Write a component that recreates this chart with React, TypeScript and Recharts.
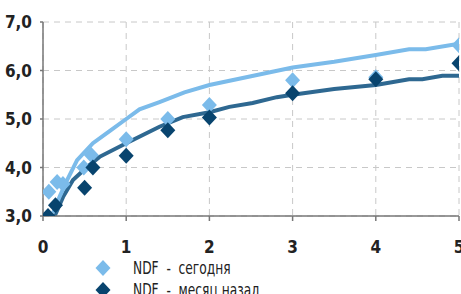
import React from 'react';
import { ComposedChart, Line, Scatter, XAxis, YAxis, CartesianGrid } from 'recharts';

// measured points
const todayX = [0.07, 0.17, 0.24, 0.49, 0.58, 1, 1.5, 2, 3, 4, 5];
const todayY = [3.5, 3.7, 3.66, 4.0, 4.26, 4.58, 5.0, 5.29, 5.8, 5.86, 6.52];
const monthX = [0.06, 0.15, 0.5, 0.6, 1, 1.5, 2, 3, 4, 5];
const monthY = [3.0, 3.22, 3.58, 4.0, 4.24, 4.77, 5.03, 5.53, 5.82, 6.15];

// fitted curves
const trendTodayX = [0.12, 0.2, 0.29, 0.41, 0.6, 0.8, 1.0, 1.16, 1.4, 1.7, 2.0, 2.5, 3.0, 3.5, 4.0, 4.4, 4.6, 5.0];
const trendTodayY = [3.06, 3.4, 3.74, 4.15, 4.5, 4.75, 5.0, 5.2, 5.35, 5.55, 5.7, 5.88, 6.06, 6.18, 6.32, 6.44, 6.44, 6.55];
const trendMonthX = [0.14, 0.24, 0.36, 0.53, 0.68, 1.0, 1.4, 1.68, 2.0, 2.24, 2.52, 2.81, 3.0, 3.5, 4.0, 4.4, 4.56, 4.8, 5.0];
const trendMonthY = [3.0, 3.39, 3.74, 4.01, 4.22, 4.5, 4.84, 5.04, 5.14, 5.25, 5.33, 5.45, 5.5, 5.62, 5.7, 5.82, 5.82, 5.89, 5.89];

const xTicks = [0, 1, 2, 3, 4, 5];
const yTicks = [3, 4, 5, 6, 7];
const seriesNames = ['NDF  -  сегодня', 'NDF  -  месяц назад'];

const LIGHT = '#7bbbea';
const DARK = '#08446e';
const DARK_LINE = '#2e6891';
const FONT = "'Liberation Sans Narrow', 'DejaVu Sans Condensed', 'Roboto Condensed', sans-serif";

const zip = (xs: number[], ys: number[]) => xs.map((x, i) => ({ x, y: ys[i] }));

const todayPts = zip(todayX, todayY);
const monthPts = zip(monthX, monthY);
const todayTrend = zip(trendTodayX, trendTodayY);
const monthTrend = zip(trendMonthX, trendMonthY);

const Diamond = (color: string) => (props: any) => {
  const { cx, cy } = props;
  if (cx == null || cy == null) return null;
  return <path d={`M${cx},${cy - 8}L${cx + 7.5},${cy}L${cx},${cy + 8}L${cx - 7.5},${cy}Z`} fill={color} />;
};

const LegendBox = () => (
  <div style={{ position: 'absolute', left: 95, top: 257, width: 250, fontFamily: FONT, fontSize: 17, color: '#222', lineHeight: '22px' }}>
    {seriesNames.map((name, i) => (
      <div key={name} style={{ display: 'flex', alignItems: 'center' }}>
        <svg width={30} height={22}>
          <path d="M8,3L15.5,11L8,19L0.5,11Z" fill={i === 0 ? LIGHT : DARK} />
        </svg>
        <span style={{ whiteSpace: 'pre', marginLeft: 8, display: 'inline-block', transform: 'scaleX(0.8)', transformOrigin: 'left center' }}>{name}</span>
      </div>
    ))}
  </div>
);

export default function App() {
  return (
    <div style={{ position: 'absolute', left: 0, top: 0, width: 461, height: 294, overflow: 'hidden', background: '#fff' }}>
      <ComposedChart width={480} height={320} margin={{ top: 22, right: 21, left: 0, bottom: 74 }}>
        <CartesianGrid stroke="#c8c8c8" strokeDasharray="6 5" strokeWidth={1} />
        <XAxis
          type="number"
          dataKey="x"
          domain={[0, 5]}
          ticks={xTicks}
          height={30}
          stroke="#777"
          strokeWidth={1.5}
          tickSize={5}
          tickMargin={20}
          tickFormatter={(v: number) => String(v)}
          tick={{ fill: '#222', fontSize: 17, fontFamily: FONT, fontWeight: 700 }}
          allowDataOverflow
        />
        <YAxis
          type="number"
          dataKey="y"
          domain={[3, 7]}
          ticks={yTicks}
          width={43}
          stroke="#777"
          strokeWidth={1.5}
          tickSize={3}
          tickMargin={8}
          tickFormatter={(v: number) => v.toFixed(1).replace('.', ',')}
          tick={{ fill: '#222', fontSize: 17, fontFamily: FONT, fontWeight: 700 }}
          allowDataOverflow
        />
        <Scatter data={todayPts} fill={LIGHT} shape={Diamond(LIGHT)} isAnimationActive={false} />
        <Line data={monthTrend} dataKey="y" type="linear" stroke={DARK_LINE} strokeWidth={4} dot={false} activeDot={false} isAnimationActive={false} />
        <Line data={todayTrend} dataKey="y" type="linear" stroke={LIGHT} strokeWidth={4} dot={false} activeDot={false} isAnimationActive={false} />
        <Scatter data={monthPts} fill={DARK} shape={Diamond(DARK)} isAnimationActive={false} />
      </ComposedChart>
      <LegendBox />
    </div>
  );
}
